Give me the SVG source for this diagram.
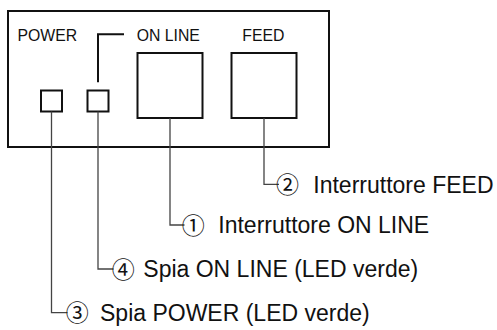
<svg xmlns="http://www.w3.org/2000/svg" width="497" height="330" viewBox="0 0 497 330">
<style>
.box{fill:none;stroke:#111;stroke-width:2}
.lead{fill:none;stroke:#444;stroke-width:1.3}
.top{font-family:"Liberation Sans",Arial,sans-serif;font-size:15.8px;fill:#111}
.lbl{font-family:"Liberation Sans",Arial,sans-serif;font-size:23px;fill:#111}
.num{font-family:"Noto Sans CJK JP","DejaVu Sans",sans-serif;font-size:23px;fill:#111;text-anchor:middle}
</style>
<rect width="497" height="330" fill="#fff"/>
<g id="panel">
<rect class="box" x="8" y="11" width="321" height="136"/>
<text class="top" x="17.5" y="40.7">POWER</text>
<text class="top" x="136.7" y="40.7">ON LINE</text>
<text class="top" x="242.3" y="40.7">FEED</text>
<polyline class="box" points="124,34.3 98,34.3 98,82.3"/>
</g>
<g id="led-power"><rect class="box" x="41" y="90.5" width="21" height="21"/></g>
<g id="led-online"><rect class="box" x="87.5" y="90.5" width="21" height="21"/></g>
<g id="btn-online"><rect class="box" x="137.5" y="53" width="65" height="65"/></g>
<g id="btn-feed"><rect class="box" x="231.5" y="53" width="65" height="65"/></g>
<g id="connectors">
<polyline class="lead" points="264,118 264,184.3 279,184.3"/>
<polyline class="lead" points="170,118 170,225 184.5,225"/>
<polyline class="lead" points="98,111.5 98,269 113.5,269"/>
<polyline class="lead" points="51.5,111.5 51.5,312.7 67.5,312.7"/>
</g>
<g id="label-2"><text class="num" x="287.5" y="192.8">②</text><text class="lbl" x="313.3" y="192.5">Interruttore FEED</text></g>
<g id="label-1"><text class="num" x="193.3" y="233.5">①</text><text class="lbl" x="218.3" y="233">Interruttore ON LINE</text></g>
<g id="label-4"><text class="num" x="123.3" y="277.5">④</text><text class="lbl" x="143.3" y="277">Spia ON LINE (LED verde)</text></g>
<g id="label-3"><text class="num" x="77.3" y="321.2">③</text><text class="lbl" x="100" y="320.7">Spia POWER (LED verde)</text></g>
</svg>
